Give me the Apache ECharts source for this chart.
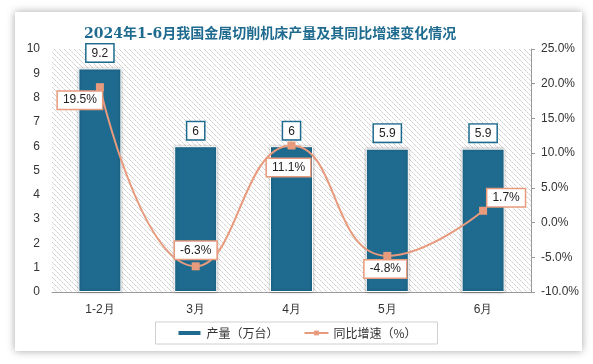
<!DOCTYPE html>
<html><head><meta charset="utf-8">
<script src="https://cdn.jsdelivr.net/npm/echarts@6/dist/echarts.min.js"></script>
<style>
html,body{margin:0;padding:0;background:#fff;}
#card{position:absolute;left:15px;top:12px;width:567px;height:339px;background:#fff;box-shadow:0 0 8px rgba(0,0,0,0.35);}
#main{position:absolute;left:0;top:0;width:593px;height:364px;}
</style></head>
<body>
<div id="card"></div>
<div id="main"></div>
<script>
var categories = ['1-2月','3月','4月','5月','6月'];
var output = [9.2, 6, 6, 5.9, 5.9];
var growth = [19.5, -6.3, 11.1, -4.8, 1.7];

var pc = document.createElement('canvas');
pc.width = 5; pc.height = 5;
var g = pc.getContext('2d');
g.fillStyle = '#ffffff'; g.fillRect(0,0,5,5);
for (var i = 0; i < 5; i++) {
  g.fillStyle = (i % 2 === 0) ? '#cfcfcf' : '#e2e2e2';
  g.fillRect(i, i, 1, 1);
}

var blue = '#1e6b8f', orange = '#e89a7c';
var lblOffset = [[-20,13],[0,-16],[-3,22],[-2,13],[23,-13]];
var lineData = growth.map(function(v,i){
  return {value:v, label:{position:'inside', offset:lblOffset[i]}};
});

var chart = echarts.init(document.getElementById('main'));
chart.setOption({
  animation:false,
  title:{text:'2024年1-6月我国金属切削机床产量及其同比增速变化情况', left:79, top:22,
    textStyle:{color:blue, fontSize:14, fontWeight:'bold', fontFamily:'DejaVu Serif, "Noto Sans CJK SC"'}},
  grid:{left:52, right:62, top:49, bottom:72, show:true, borderWidth:0,
    backgroundColor:{image:pc, repeat:'repeat'}},
  legend:{bottom:20, left:'center', itemGap:25, itemWidth:24, itemHeight:6,
    borderColor:'#d0d0d0', borderWidth:1, padding:[5,21,5,21],
    textStyle:{fontSize:12, color:'#333', fontFamily:'"Noto Sans CJK SC"'},
    data:[{name:'产量（万台）', icon:'rect'},{name:'同比增速（%）'}]},
  xAxis:{type:'category', data:categories,
    axisLine:{lineStyle:{color:'#999'}}, axisTick:{show:false},
    axisLabel:{color:'#333', fontSize:12, margin:12}},
  yAxis:[
    {type:'value', min:0, max:10, interval:1, splitLine:{show:false},
     axisLine:{show:false}, axisTick:{show:false},
     axisLabel:{color:'#333', fontSize:12, margin:12}},
    {type:'value', min:-10, max:25, interval:5, splitLine:{show:false},
     axisLine:{show:true, lineStyle:{color:'#999'}}, axisTick:{show:true, length:4, lineStyle:{color:'#999'}},
     axisLabel:{color:'#333', fontSize:12, margin:10, formatter:function(v){return v.toFixed(1)+'%';}}}
  ],
  series:[
    {name:'产量（万台）', type:'bar', data:output, barWidth:43, yAxisIndex:0,
     itemStyle:{color:blue, borderColor:'#fff', borderWidth:1, shadowBlur:3, shadowColor:'rgba(0,0,0,0.35)'},
     label:{show:true, position:'top', distance:7, color:'#222', fontSize:12,
       backgroundColor:'#fff', borderColor:blue, borderWidth:1.5, padding:[3,5,2,5]}},
    {name:'同比增速（%）', type:'line', data:lineData, yAxisIndex:1, smooth:0.5,
     symbol:'rect', symbolSize:8, lineStyle:{color:orange, width:2},
     itemStyle:{color:orange},
     label:{show:true, color:'#222', fontSize:12, formatter:function(p){return p.value+'%';},
       backgroundColor:'#fff', borderColor:orange, borderWidth:1.5, padding:[3,5,2,5]}}
  ]
});
</script>
</body></html>
